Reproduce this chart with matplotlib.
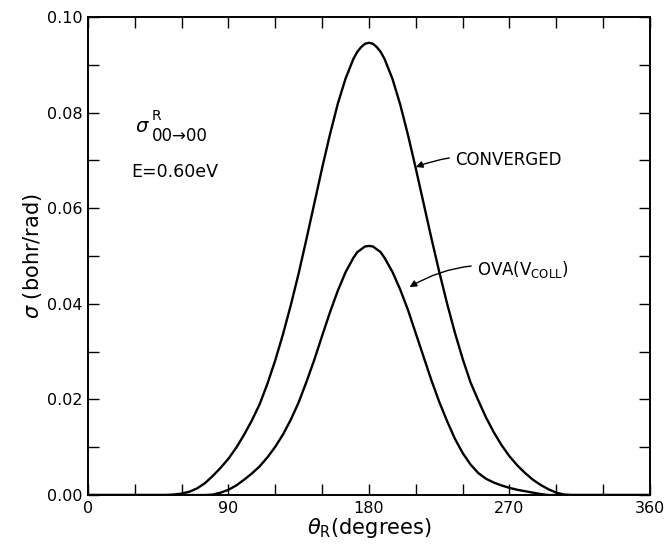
import numpy as np
import matplotlib
matplotlib.use('Agg')
from matplotlib import pyplot as plt

# converged cross section (bohr/rad) vs theta_R (degrees)
theta_conv = [0, 45, 50, 55, 60, 65, 70, 75, 80, 85, 90, 95, 100, 105, 110,
              115, 120, 125, 130, 135, 140, 145, 150, 155, 160, 165, 170,
              172.5, 175, 177.5, 180, 182.5, 185, 187.5, 190, 195, 200, 205,
              210, 215, 220, 225, 230, 235, 240, 245, 250, 255, 260, 265,
              270, 275, 280, 285, 290, 295, 300, 305, 310, 360]
sigma_conv = [0, 0, 0.0000, 0.0001, 0.0003, 0.0007, 0.0014, 0.0025, 0.0040,
              0.0057, 0.0076, 0.0099, 0.0126, 0.0156, 0.0190,
              0.0233, 0.0282, 0.0337, 0.0398, 0.0464, 0.0536, 0.0610, 0.0684,
              0.0754, 0.0818, 0.0871, 0.0912,
              0.0927, 0.0937, 0.0944, 0.0946, 0.0944, 0.0937, 0.0927, 0.0912,
              0.0871, 0.0817, 0.0753,
              0.0683, 0.0610, 0.0537, 0.0467, 0.0401, 0.0340, 0.0285, 0.0236,
              0.0198, 0.0162, 0.0131, 0.0104,
              0.0081, 0.0062, 0.0046, 0.0032, 0.0021, 0.0012, 0.0005, 0.0001,
              0.0000, 0]

# OVA(V_COLL)
theta_ova = [0, 70, 75, 80, 85, 90, 95, 100, 105, 110, 115, 120, 125, 130,
             135, 140, 145, 150, 155, 160, 165, 170, 172.5, 175, 177.5, 180,
             182.5, 185, 187.5, 190, 195, 200, 205, 210, 215, 220, 225, 230,
             235, 240, 245, 250, 255, 260, 265, 270, 275, 280, 285, 290, 295,
             360]
sigma_ova = [0, 0, 0.0000, 0.0001, 0.0005, 0.0011, 0.0020, 0.0032, 0.0045,
             0.0060, 0.0079, 0.0101, 0.0127, 0.0158,
             0.0194, 0.0237, 0.0283, 0.0333, 0.0382, 0.0427, 0.0466, 0.0496,
             0.0508, 0.0514, 0.0520, 0.0521,
             0.0520, 0.0514, 0.0508, 0.0496, 0.0467, 0.0430, 0.0387, 0.0338,
             0.0289, 0.0240, 0.0195, 0.0155,
             0.0118, 0.0088, 0.0064, 0.0046, 0.0034, 0.0026, 0.0020, 0.0015,
             0.0011, 0.0008, 0.0005, 0.0002, 0.0000,
             0]

x_ticks = [0, 90, 180, 270, 360]
y_ticks = [0.00, 0.02, 0.04, 0.06, 0.08, 0.10]

plt.rcParams['font.family'] = ['DejaVu Sans']

fig = plt.figure(figsize=(6.66, 5.47), dpi=100)
ax = fig.add_axes([0.132, 0.095, 0.844, 0.874])

ax.plot(theta_conv, sigma_conv, color='black', lw=1.7, solid_joinstyle='round')
ax.plot(theta_ova, sigma_ova, color='black', lw=1.7, solid_joinstyle='round')

ax.set_xlim(0, 360)
ax.set_ylim(0, 0.10)
ax.set_xticks(x_ticks)
ax.set_xticks(np.arange(30, 360, 30), minor=True)
ax.set_yticks(y_ticks)
ax.set_yticks(np.arange(0.01, 0.10, 0.02), minor=True)
ax.set_yticklabels(['%.2f' % v for v in y_ticks])
ax.tick_params(which='both', direction='in', top=True, right=True,
               length=8, width=1, labelsize=11.5, pad=4)
for s in ax.spines.values():
    s.set_linewidth(1.4)

ax.set_xlabel(r'$\theta_{\rm R}$(degrees)', fontsize=15, labelpad=0)
ax.set_ylabel(r'$\sigma$ (bohr/rad)', fontsize=15, labelpad=2)

# labels inside the plot
ax.text(30, 0.0760, r'$\sigma$', fontsize=14)
ax.text(41, 0.0785, 'R', fontsize=10)
ax.text(41, 0.0740, '00→00', fontsize=12)
ax.text(28, 0.0665, 'E=0.60eV', fontsize=12.5)

ax.annotate('CONVERGED', xy=(210, 0.0686), xytext=(235, 0.0701),
            fontsize=12, va='center',
            arrowprops=dict(arrowstyle='-|>', color='black', lw=1,
                            connectionstyle='arc3,rad=0.15', shrinkA=2,
                            shrinkB=0, mutation_scale=10))
ax.annotate(r'OVA(V$_{\rm COLL}$)', xy=(206, 0.0435), xytext=(249, 0.0472),
            fontsize=12, va='center',
            arrowprops=dict(arrowstyle='-|>', color='black', lw=1,
                            connectionstyle='arc3,rad=0.2', shrinkA=2,
                            shrinkB=0, mutation_scale=10))

fig.savefig('out.png', dpi=100)
plt.close()
